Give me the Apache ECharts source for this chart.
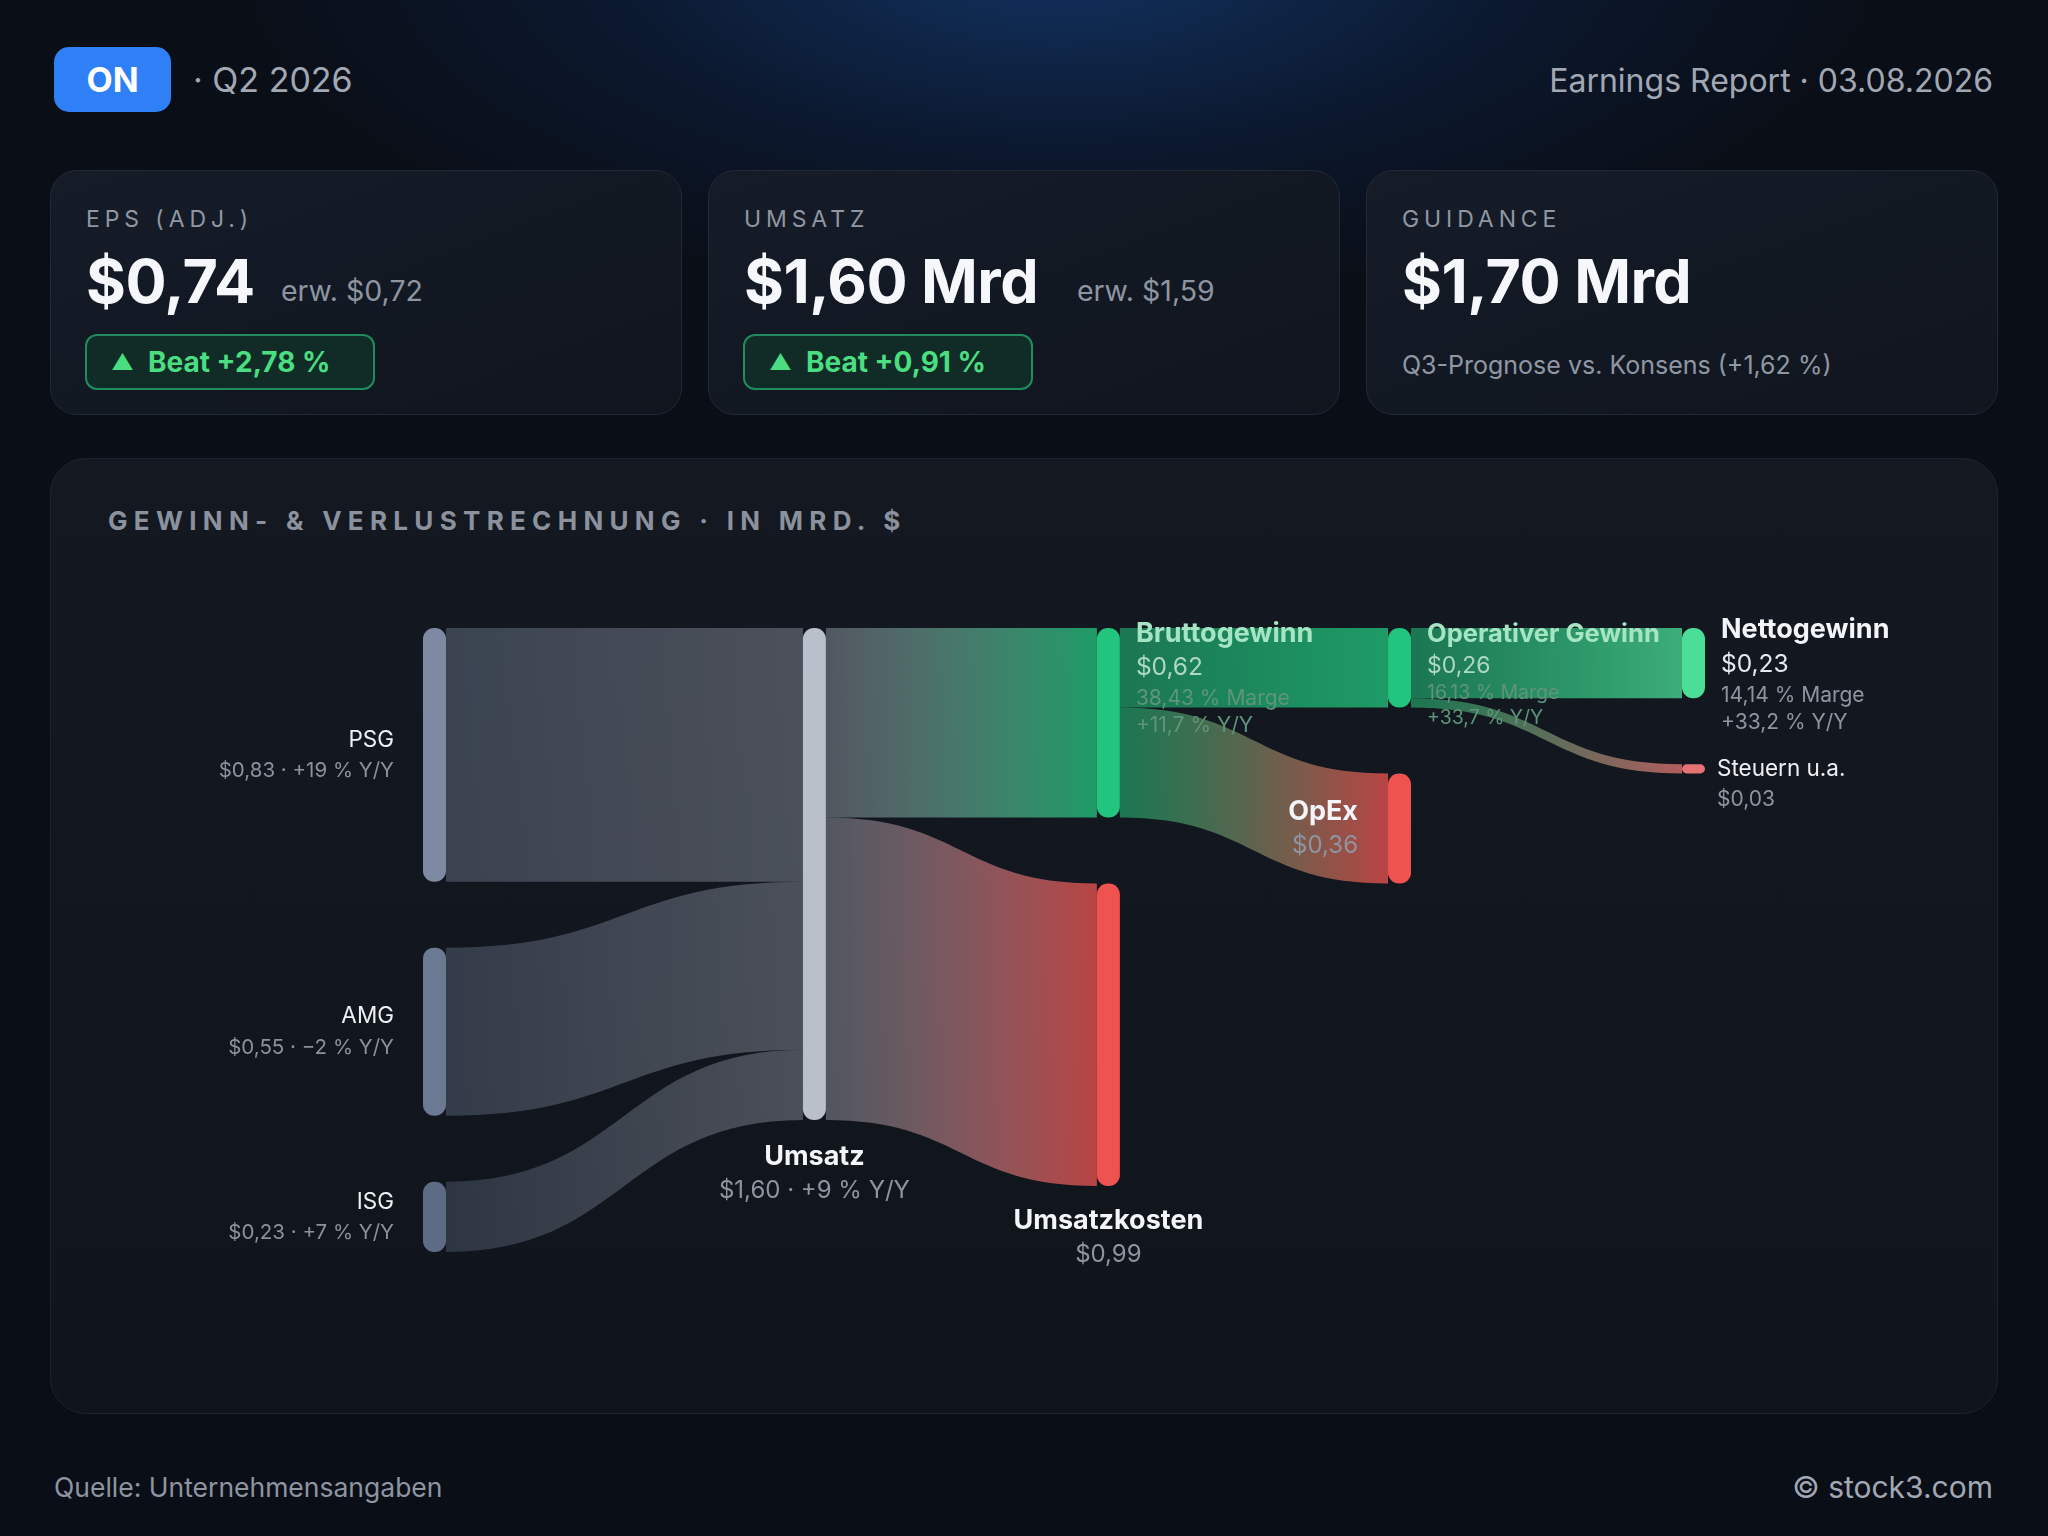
<!DOCTYPE html>
<html>
<head>
<meta charset="utf-8">
<script src="https://cdn.jsdelivr.net/npm/echarts@6/dist/echarts.min.js"></script>
<style>
    html, body { margin: 0; padding: 0; }
    body {
        width: 2048px; height: 1536px; overflow: hidden; position: relative;
        font-family: Inter, 'Noto Sans', sans-serif;
        background:
            radial-gradient(ellipse 1050px 430px at 1060px -40px, rgba(18, 52, 100, 0.95) 0%, rgba(12, 32, 64, 0.55) 45%, rgba(10, 14, 22, 0) 80%),
            #0a0e16;
        color: #f1f3f7;
    }
    .abs { position: absolute; line-height: 1; white-space: nowrap; }
    .ticker {
        left: 54px; top: 47px; width: 117px; height: 65px; border-radius: 15px;
        background: #2f7ff7; color: #fff; font-weight: 700; font-size: 34px;
        display: flex; align-items: center; justify-content: center;
    }
    .muted { color: #a1a8b4; }
    .card {
        position: absolute; top: 170px; width: 632px; height: 245px; box-sizing: border-box;
        border-radius: 27px; border: 1.5px solid #222936;
        background: linear-gradient(160deg, #151c28 0%, #10151e 100%);
    }
    .card .lbl { left: 35px; top: 37px; font-size: 23px; letter-spacing: 4.9px; color: #9097a3; }
    .card .big { left: 35px; top: 80px; font-size: 61px; font-weight: 700; color: #f6f7fb; letter-spacing: -0.5px; }
    .card .erw { top: 106px; font-size: 28.5px; color: #8e95a1; }
    .card .beat {
        left: 34px; top: 163px; width: 290px; height: 56px; box-sizing: border-box;
        border-radius: 12px; border: 2px solid #1e8c5c; background: #112c27;
        color: #4ade80; font-weight: 700; font-size: 28px;
        display: flex; align-items: center; padding-left: 24px;
    }
    .card .beat span.tri { font-size: 22px; margin-right: 14px; }
    .card .sub { left: 35px; top: 182px; font-size: 25px; color: #9097a3; }
    .panel {
        position: absolute; left: 50px; top: 458px; width: 1948px; height: 956px; box-sizing: border-box;
        border-radius: 36px; border: 1.5px solid #1e242f;
        background: linear-gradient(180deg, #141921 0%, #10141b 100%);
    }
    .ptitle { left: 57px; top: 49px; font-size: 26px; font-weight: 700; letter-spacing: 6.3px; color: #8b929e; }
    #chart { position: absolute; left: 0; top: 0; width: 2048px; height: 1536px; }
</style>
</head>
<body>
<div class="abs ticker">ON</div>
<div class="abs muted" style="left:193px; top:63px; font-size:34px;">· Q2 2026</div>
<div class="abs muted" style="right:55px; top:65px; font-size:32px;">Earnings Report · 03.08.2026</div>

<div class="card" style="left:50px;">
    <div class="abs lbl">EPS (ADJ.)</div>
    <div class="abs big">$0,74</div>
    <div class="abs erw" style="left:230px;">erw. $0,72</div>
    <div class="abs beat"><span class="tri">▲</span>Beat +2,78 %</div>
</div>
<div class="card" style="left:708px;">
    <div class="abs lbl">UMSATZ</div>
    <div class="abs big">$1,60 Mrd</div>
    <div class="abs erw" style="left:368px;">erw. $1,59</div>
    <div class="abs beat"><span class="tri">▲</span>Beat +0,91 %</div>
</div>
<div class="card" style="left:1366px;">
    <div class="abs lbl">GUIDANCE</div>
    <div class="abs big">$1,70 Mrd</div>
    <div class="abs sub">Q3-Prognose vs. Konsens (+1,62 %)</div>
</div>

<div class="panel">
    <div class="abs ptitle">GEWINN- &amp; VERLUSTRECHNUNG · IN MRD. $</div>
</div>

<div class="abs muted" style="left:54px; top:1474px; font-size:26.5px; color:#8e95a1;">Quelle: Unternehmensangaben</div>
<div class="abs muted" style="right:55px; top:1472px; font-size:30px;">© stock3.com</div>

<div id="chart"></div>

<script>
// Knoten der GuV (Mrd. $)
const nodeNames = ['PSG', 'AMG', 'ISG', 'Umsatz', 'Bruttogewinn', 'Umsatzkosten', 'Operativer Gewinn', 'OpEx', 'Nettogewinn', 'Steuern u.a.'];
const nodeAmounts = ['$0,83', '$0,55', '$0,23', '$1,60', '$0,62', '$0,99', '$0,26', '$0,36', '$0,23', '$0,03'];
const nodeYoY = ['+19 % Y/Y', '−2 % Y/Y', '+7 % Y/Y', '+9 % Y/Y', '+11,7 % Y/Y', '', '+33,7 % Y/Y', '', '+33,2 % Y/Y', ''];
const nodeMargins = ['', '', '', '', '38,43 % Marge', '', '16,13 % Marge', '', '14,14 % Marge', ''];

// Flüsse
const linkSources = ['PSG', 'AMG', 'ISG', 'Umsatz', 'Umsatz', 'Bruttogewinn', 'Bruttogewinn', 'Operativer Gewinn', 'Operativer Gewinn'];
const linkTargets = ['Umsatz', 'Umsatz', 'Umsatz', 'Bruttogewinn', 'Umsatzkosten', 'Operativer Gewinn', 'OpEx', 'Nettogewinn', 'Steuern u.a.'];
const linkValues = [0.83, 0.55, 0.23, 0.62, 0.99, 0.26, 0.36, 0.23, 0.03];

// Layout: Spaltentiefe je Knoten (Spalten nicht gleichmäßig verteilt)
const nodeDepth = [0, 0, 0, 1.207, 2.141, 2.141, 3.066, 3.066, 4, 4];

const nodeColors = {
    'PSG': '#7d8aa2', 'AMG': '#6b7992', 'ISG': '#5e6b84', 'Umsatz': '#b9bfcb',
    'Bruttogewinn': '#22c57d', 'Umsatzkosten': '#ef5350', 'Operativer Gewinn': '#22c57d',
    'OpEx': '#ef5350', 'Nettogewinn': '#4ade97', 'Steuern u.a.': '#e57373'
};
const neutral = ['PSG', 'AMG', 'ISG', 'Umsatz'];

function rgba(hex, a){
    let n = parseInt(hex.slice(1), 16);
    return `rgba(${n >> 16},${(n >> 8) & 255},${n & 255},${a})`;
}

const FONT = 'Inter, "Noto Sans", sans-serif';
const rich = {
    seg:   { fontFamily: FONT, fontSize: 22.5, color: '#eef0f4', lineHeight: 32 },
    segS:  { fontFamily: FONT, fontSize: 20.5, color: '#8b929d', lineHeight: 30 },
    big:   { fontFamily: FONT, fontSize: 27, fontWeight: 700, color: '#f3f5f9', lineHeight: 35 },
    mid:   { fontFamily: FONT, fontSize: 24, color: '#8e95a0', lineHeight: 33 },
    wVal:  { fontFamily: FONT, fontSize: 24.5, color: '#e6e9ee', lineHeight: 35 },
    sub:   { fontFamily: FONT, fontSize: 21, color: '#8e95a0', lineHeight: 27 },
    sub2:  { fontFamily: FONT, fontSize: 21, color: '#8e95a0', lineHeight: 30 },
    gName: { fontFamily: FONT, fontSize: 27, fontWeight: 700, color: '#a6e5c3', lineHeight: 35 },
    gVal:  { fontFamily: FONT, fontSize: 24.5, color: '#aed8c2', lineHeight: 34 },
    gSub:  { fontFamily: FONT, fontSize: 21, color: '#5f957b', lineHeight: 27 },
    oName: { fontFamily: FONT, fontSize: 25.5, fontWeight: 700, color: '#a6e5c3', lineHeight: 33 },
    oVal:  { fontFamily: FONT, fontSize: 23, color: '#aed8c2', lineHeight: 30 },
    oSub:  { fontFamily: FONT, fontSize: 19.5, color: '#5f957b', lineHeight: 25 }
};

function nodeLabel(i){
    let name = nodeNames[i], amt = nodeAmounts[i], yoy = nodeYoY[i], mg = nodeMargins[i];
    if(i < 3)
        return { position: 'left', distance: 29, formatter: `{seg|${name}}\n{segS|${amt} · ${yoy}}` };
    if(name === 'Umsatz')
        return { position: 'bottom', distance: 19, formatter: `{big|${name}}\n{mid|${amt} · ${yoy}}` };
    if(name === 'Umsatzkosten')
        return { position: 'bottom', distance: 17, formatter: `{big|${name}}\n{mid|${amt}}` };
    if(name === 'OpEx')
        return { position: 'left', distance: 30, formatter: `{big|${name}}\n{mid|${amt}}` };
    if(name === 'Nettogewinn')
        return { position: ['100%', 0], offset: [16, -16], align: 'left', verticalAlign: 'top',
                 formatter: `{big|${name}}\n{wVal|${amt}}\n{sub|${mg}}\n{sub|${yoy}}` };
    if(name === 'Steuern u.a.')
        return { position: ['100%', '50%'], offset: [12, -16], align: 'left', verticalAlign: 'top',
                 formatter: `{seg|${name}}\n{sub2|${amt}}` };
    if(name === 'Operativer Gewinn')
        return { position: ['100%', 0], offset: [16, -10], align: 'left', verticalAlign: 'top',
                 formatter: `{oName|${name}}\n{oVal|${amt}}\n{oSub|${mg}}\n{oSub|${yoy}}` };
    // Bruttogewinn
    return { position: ['100%', 0], offset: [16, -12], align: 'left', verticalAlign: 'top',
             formatter: `{gName|${name}}\n{gVal|${amt}}\n{gSub|${mg}}\n{gSub|${yoy}}` };
}

let sankeyNodes = nodeNames.map((name, i) => ({
    name: name,
    depth: nodeDepth[i],
    itemStyle: { color: nodeColors[name], borderRadius: 11 },
    label: nodeLabel(i)
}));

let sankeyLinks = linkSources.map((s, i) => {
    let t = linkTargets[i],
        a0 = neutral.includes(s) ? 0.38 : 0.55,
        a1 = neutral.includes(t) ? 0.34 : 0.76;
    return {
        source: s,
        target: t,
        value: linkValues[i],
        lineStyle: {
            color: new echarts.graphic.LinearGradient(0, 0, 1, 0, [
                { offset: 0, color: rgba(nodeColors[s], a0) },
                { offset: 1, color: rgba(nodeColors[t], a1) }
            ]),
            opacity: 1
        }
    };
});

let chart = echarts.init(document.getElementById('chart'), null, { renderer: 'canvas' });
chart.setOption({
    animation: false,
    textStyle: { fontFamily: FONT },
    series: [{
        type: 'sankey',
        left: 423,
        right: 343,
        top: 628,
        bottom: 284,
        nodeWidth: 23,
        nodeGap: 66,
        nodeAlign: 'left',
        layoutIterations: 0,
        draggable: false,
        emphasis: { disabled: true },
        label: { show: true, rich: rich },
        lineStyle: { curveness: 0.5 },
        data: sankeyNodes,
        links: sankeyLinks
    }]
});
</script>
</body>
</html>
